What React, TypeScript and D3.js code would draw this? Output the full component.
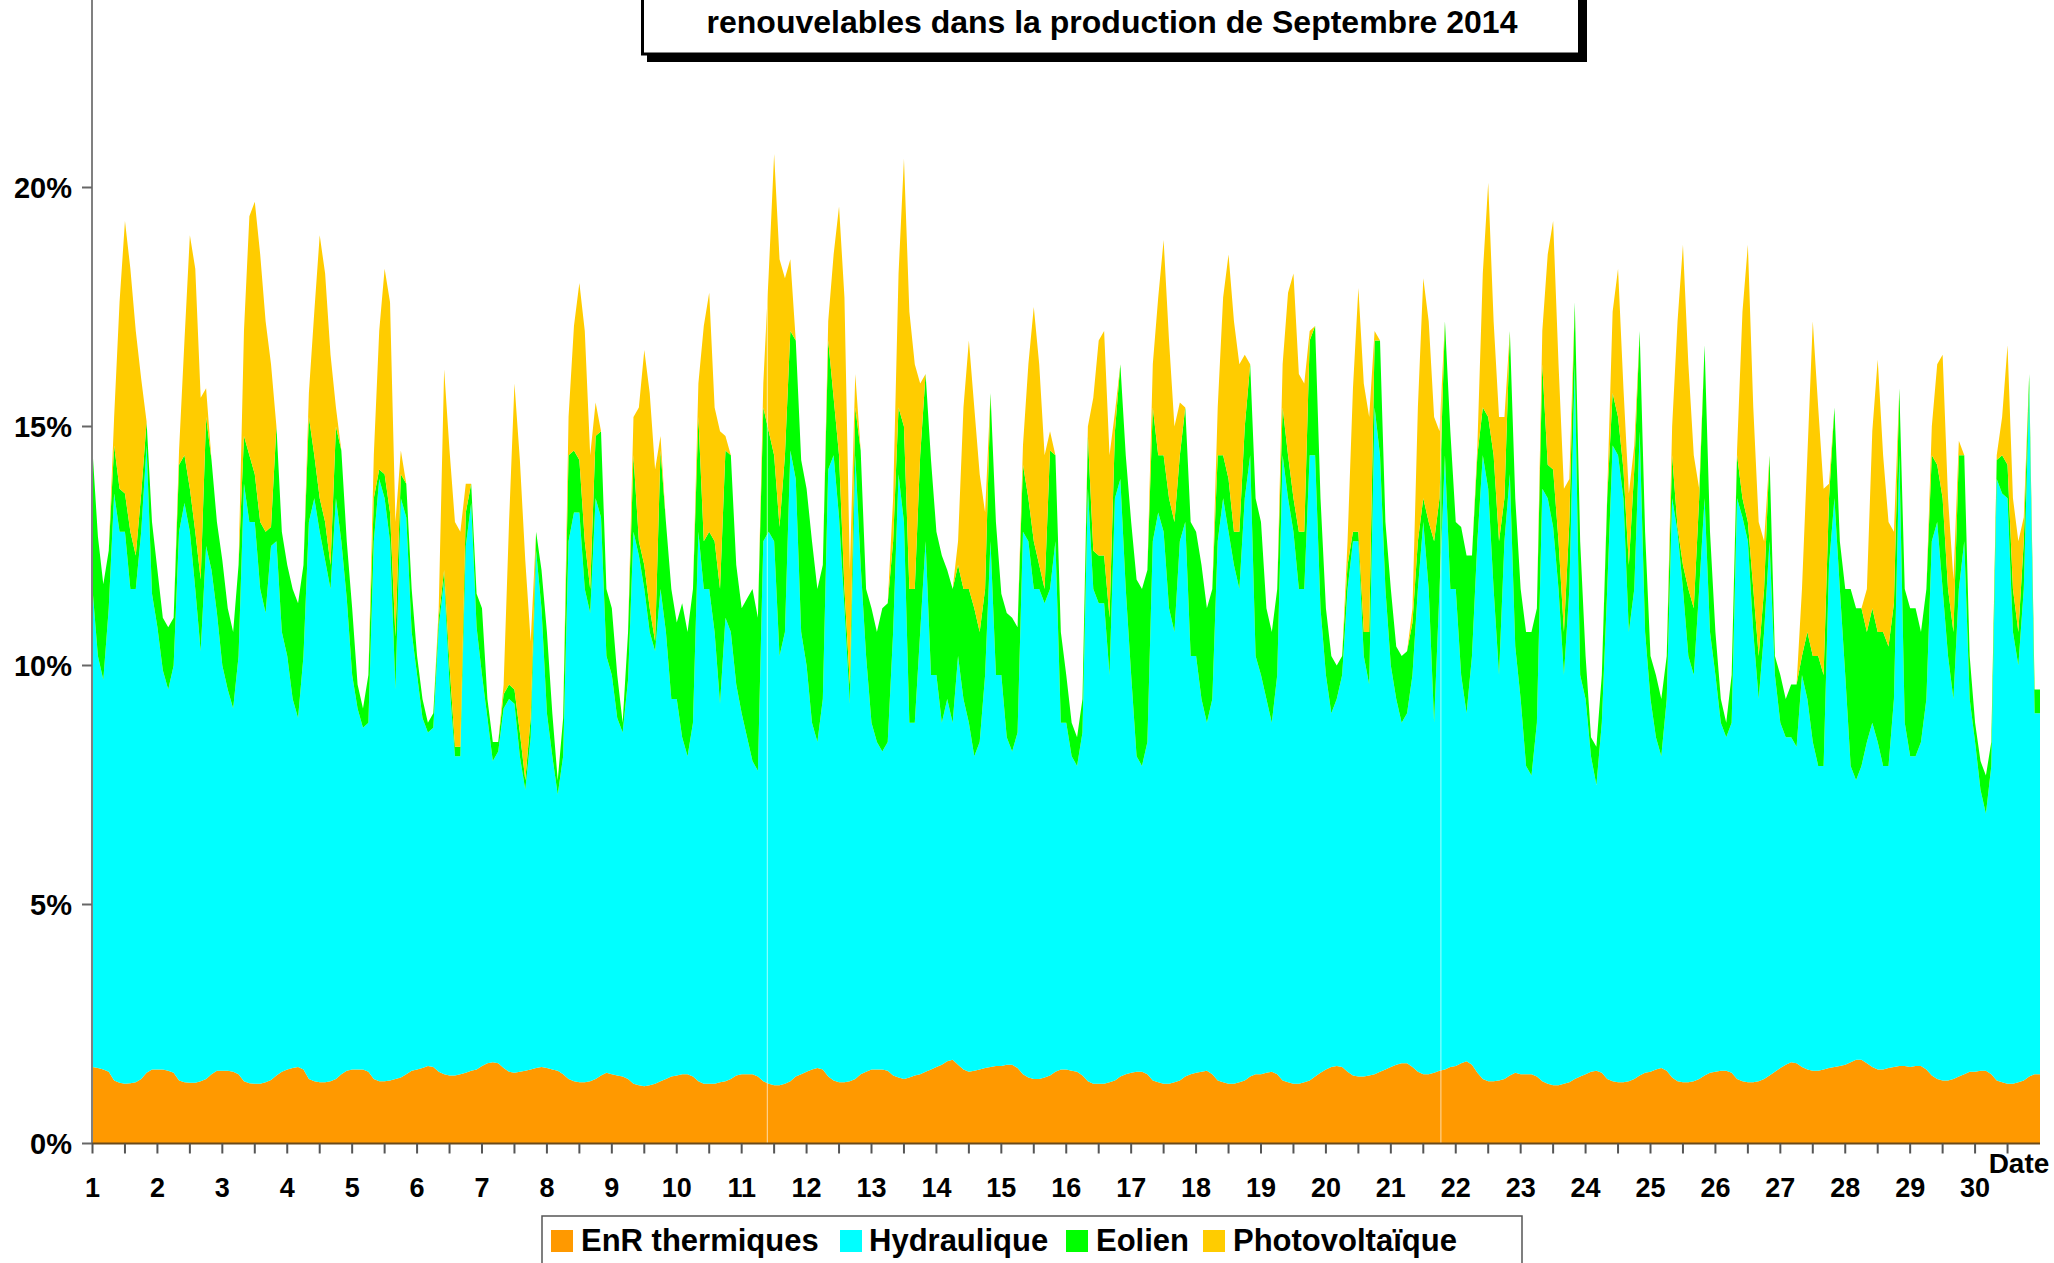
import React from 'react';
import * as d3 from 'd3';

// Hours of each reading within a day
const HOURS = [0, 2, 4, 6, 8, 10, 12, 14, 16, 18, 20, 22];

const DAY_LABELS = ['1','2','3','4','5','6','7','8','9','10','11','12','13','14','15','16','17','18','19','20','21','22','23','24','25','26','27','28','29','30'];

const Y_TICKS = [0, 5, 10, 15, 20];

const SERIES_NAMES = ['EnR thermiques', 'Hydraulique', 'Eolien', 'Photovoltaïque'];
const SERIES_COLORS = ['#FF9900', '#00FFFF', '#00FF00', '#FFCC00'];

// Share of production (%) per day, 2-hourly
const thermal = [
  [1.60,1.58,1.55,1.50,1.32,1.27,1.25,1.26,1.28,1.35,1.48,1.55],
  [1.55,1.55,1.52,1.48,1.32,1.28,1.27,1.27,1.30,1.35,1.45,1.52],
  [1.52,1.52,1.50,1.45,1.30,1.26,1.25,1.25,1.28,1.33,1.42,1.50],
  [1.55,1.58,1.60,1.55,1.35,1.30,1.28,1.28,1.30,1.35,1.45,1.52],
  [1.55,1.55,1.55,1.50,1.35,1.30,1.30,1.32,1.35,1.38,1.45,1.52],
  [1.55,1.58,1.62,1.60,1.50,1.45,1.42,1.42,1.45,1.48,1.52,1.55],
  [1.62,1.68,1.70,1.68,1.58,1.50,1.48,1.50,1.52,1.55,1.58,1.60],
  [1.58,1.55,1.52,1.45,1.35,1.30,1.28,1.28,1.30,1.35,1.42,1.48],
  [1.45,1.42,1.40,1.35,1.25,1.22,1.20,1.22,1.25,1.30,1.35,1.40],
  [1.42,1.45,1.45,1.40,1.30,1.25,1.25,1.25,1.28,1.30,1.35,1.42],
  [1.45,1.45,1.45,1.40,1.30,1.25,1.22,1.22,1.25,1.30,1.40,1.45],
  [1.50,1.55,1.58,1.55,1.40,1.32,1.28,1.28,1.30,1.35,1.45,1.50],
  [1.55,1.55,1.55,1.52,1.42,1.38,1.35,1.38,1.42,1.45,1.50,1.55],
  [1.60,1.65,1.72,1.75,1.65,1.55,1.50,1.52,1.55,1.58,1.60,1.62],
  [1.62,1.65,1.65,1.58,1.45,1.38,1.35,1.35,1.38,1.42,1.50,1.55],
  [1.55,1.52,1.50,1.42,1.30,1.25,1.25,1.25,1.28,1.32,1.40,1.45],
  [1.48,1.50,1.50,1.45,1.32,1.28,1.25,1.25,1.28,1.32,1.40,1.45],
  [1.48,1.50,1.52,1.45,1.32,1.28,1.25,1.25,1.28,1.32,1.40,1.45],
  [1.45,1.48,1.50,1.45,1.32,1.28,1.25,1.25,1.28,1.32,1.40,1.48],
  [1.55,1.60,1.62,1.60,1.50,1.42,1.40,1.40,1.42,1.45,1.50,1.55],
  [1.60,1.65,1.68,1.68,1.60,1.50,1.45,1.45,1.48,1.52,1.55,1.60],
  [1.62,1.68,1.72,1.65,1.48,1.35,1.30,1.30,1.32,1.35,1.42,1.48],
  [1.45,1.45,1.45,1.40,1.30,1.25,1.22,1.22,1.25,1.28,1.35,1.40],
  [1.45,1.50,1.52,1.48,1.35,1.30,1.28,1.28,1.30,1.35,1.42,1.48],
  [1.50,1.55,1.58,1.52,1.38,1.30,1.28,1.28,1.30,1.35,1.42,1.48],
  [1.50,1.52,1.52,1.48,1.35,1.30,1.28,1.28,1.30,1.35,1.42,1.50],
  [1.58,1.65,1.70,1.68,1.60,1.55,1.52,1.52,1.55,1.58,1.60,1.62],
  [1.65,1.70,1.75,1.75,1.68,1.60,1.55,1.55,1.58,1.60,1.62,1.62],
  [1.60,1.62,1.62,1.55,1.42,1.35,1.32,1.32,1.35,1.40,1.45,1.50],
  [1.50,1.52,1.52,1.45,1.32,1.28,1.25,1.25,1.28,1.32,1.40,1.45],
];

const hydro = [
  [10.00,8.62,8.15,9.70,12.28,11.53,11.55,10.34,10.32,11.45,13.12,9.95],
  [9.25,8.35,7.98,8.52,11.48,12.12,11.53,10.33,9.00,11.15,10.55,9.58],
  [8.48,7.98,7.60,8.75,12.50,11.74,11.75,10.35,9.82,11.17,11.18,9.20],
  [8.65,7.72,7.30,8.65,11.65,12.20,11.52,10.92,10.30,12.15,11.15,9.88],
  [8.25,7.55,7.15,7.30,11.25,12.60,12.20,11.28,8.15,12.12,11.65,9.18],
  [8.25,7.32,6.98,7.10,9.30,10.35,8.18,6.68,6.65,11.02,11.88,9.25],
  [8.18,7.22,6.30,6.52,7.52,7.80,7.72,6.60,5.88,6.95,10.82,9.60],
  [7.42,6.55,5.78,6.65,11.25,11.90,11.92,10.32,9.80,12.15,11.68,8.72],
  [8.35,7.48,7.20,8.35,11.55,11.08,10.40,9.48,9.05,10.30,9.35,7.90],
  [7.88,7.05,6.65,7.40,11.50,10.35,10.35,9.45,7.92,9.70,9.35,8.18],
  [7.55,7.05,6.55,6.40,11.30,11.55,11.38,8.98,9.45,13.20,12.50,9.25],
  [8.50,7.25,6.82,7.75,12.70,13.08,11.82,9.92,7.90,13.05,10.65,8.70],
  [7.25,6.85,6.65,6.88,9.28,12.62,11.65,7.42,7.38,9.25,11.10,8.25],
  [8.20,7.15,7.58,7.05,8.55,7.75,7.30,6.58,6.85,8.22,11.00,8.18],
  [8.18,6.85,6.55,7.02,11.35,11.22,10.25,10.25,9.92,10.18,11.10,7.25],
  [7.25,6.58,6.40,7.18,12.40,10.35,10.05,10.05,8.52,12.18,12.50,10.15],
  [8.32,6.60,6.40,6.95,11.28,11.92,11.55,9.95,9.42,11.28,11.60,8.75],
  [8.72,7.80,7.28,7.85,11.28,12.22,11.55,10.85,10.32,12.18,13.00,8.75],
  [8.35,7.82,7.30,8.35,13.08,12.22,11.55,10.35,10.32,13.08,13.00,9.72],
  [8.25,7.40,7.68,8.20,10.10,11.18,11.20,8.80,8.18,13.95,12.90,10.05],
  [8.40,7.65,7.12,7.32,8.20,10.10,11.55,10.15,7.32,10.08,12.85,10.00],
  [9.98,8.12,7.28,8.55,11.12,13.05,12.40,10.30,8.48,11.25,12.58,8.92],
  [7.85,6.45,6.25,7.40,12.40,12.25,11.68,10.38,8.55,10.32,14.95,8.40],
  [7.85,6.60,5.98,7.32,10.25,13.30,13.12,12.22,9.40,10.25,13.48,9.22],
  [7.80,6.95,6.52,7.78,12.12,11.50,10.32,8.92,8.50,10.25,12.08,9.22],
  [8.30,7.28,6.98,7.32,12.15,11.80,11.32,9.42,8.00,9.35,11.18,8.30],
  [7.22,6.85,6.80,6.62,8.20,7.75,6.88,6.38,6.35,10.52,11.90,9.98],
  [8.15,6.20,5.85,6.15,6.72,7.20,6.85,6.35,6.32,7.70,12.78,7.18],
  [6.50,6.48,6.78,7.75,11.18,11.65,10.28,8.88,7.95,10.20,11.15,7.80],
  [6.90,5.88,5.38,6.45,12.58,12.32,12.25,9.45,8.72,10.28,14.40,7.55],
];

const wind = [
  [2.9,2.5,2.0,1.2,1.0,0.9,0.8,1.2,0.7,0.8,0.5,1.5],
  [1.2,1.1,1.3,1.0,1.4,1.0,0.9,1.2,1.5,2.7,2.3,1.9],
  [2.2,1.7,1.6,1.9,1.0,1.4,1.0,1.4,1.7,0.4,2.4,2.1],
  [1.9,2.3,2.4,1.9,2.2,0.9,0.7,0.8,0.5,1.5,1.9,1.2],
  [1.4,0.5,0.4,1.0,0.9,0.2,0.5,0.6,1.1,0.5,0.7,0.9],
  [0.4,0.4,0.2,0.3,0.2,0.2,0.4,0.2,0.2,0.7,0.4,0.7],
  [1.4,0.4,0.4,0.2,0.3,0.3,0.3,0.5,0.2,0.4,0.4,0.8],
  [1.7,0.9,0.3,0.8,1.8,1.3,1.1,1.0,0.5,1.3,1.8,1.4],
  [1.4,0.9,0.2,1.0,1.6,0.3,0.5,0.5,0.2,2.9,2.3,2.3],
  [1.6,2.8,2.6,2.8,2.4,1.0,1.2,1.9,2.4,3.5,3.7,2.5],
  [2.2,2.9,3.6,3.2,2.8,2.1,1.8,2.7,3.7,2.5,2.9,3.6],
  [3.7,3.8,3.2,2.8,2.7,1.2,1.3,0.4,0.4,1.0,2.4,1.4],
  [2.4,2.3,3.0,2.9,1.9,1.4,2.0,2.8,2.8,3.7,3.5,4.5],
  [3.0,3.5,2.7,2.8,1.9,2.3,2.8,3.1,2.3,1.8,3.1,3.2],
  [1.7,2.6,2.8,2.2,1.4,0.9,1.0,0.5,0.3,2.9,1.8,1.9],
  [1.0,0.7,0.6,0.7,1.1,0.8,1.0,1.0,1.2,1.4,2.4,2.8],
  [3.2,3.7,3.7,3.6,2.8,1.2,1.6,2.3,2.3,1.8,2.4,2.8],
  [2.6,2.8,2.4,2.3,1.8,0.9,1.1,0.7,1.2,1.5,1.9,3.3],
  [3.2,1.9,1.9,1.8,1.0,0.9,0.7,1.2,1.2,2.4,2.7,2.3],
  [1.4,1.2,0.7,0.4,0.5,0.2,0.2,0.5,1.1,1.4,2.4,1.4],
  [1.6,1.1,1.4,1.3,1.1,1.0,0.5,1.4,3.8,1.9,2.8,3.3],
  [1.4,3.1,3.3,2.1,1.8,1.0,1.5,2.8,2.8,0.9,3.0,3.1],
  [2.3,2.8,3.0,2.4,2.6,0.7,1.2,1.0,0.9,1.4,1.3,2.8],
  [0.9,0.4,0.8,1.0,1.9,1.1,0.8,0.6,1.4,2.5,2.1,2.1],
  [0.9,1.3,1.2,0.9,0.9,0.1,0.5,1.4,1.4,1.9,3.2,2.1],
  [0.9,0.5,0.3,1.0,0.9,0.4,0.4,0.9,0.9,0.9,1.8,0.4],
  [1.0,0.8,1.1,1.3,0.4,1.4,1.8,2.3,1.9,1.4,1.9,1.0],
  [1.8,3.7,3.6,3.3,2.3,2.4,2.3,2.8,2.5,2.0,1.4,2.8],
  [3.1,3.1,2.3,2.3,1.8,1.2,1.9,1.4,1.4,2.8,1.8,0.9],
  [0.4,0.6,0.8,0.5,0.4,0.8,0.7,0.9,0.7,1.0,0.3,0.5],
];

const solar = [
  [0,0,0,0,0.6,3.9,5.7,5.5,4.7,2.4,0,0],
  [0,0,0,0,0.3,2.4,5.3,5.5,3.8,0.6,0,0],
  [0,0,0,0,2.2,5.0,5.7,5.6,4.4,3.4,0,0],
  [0,0,0,0,0.5,3.0,5.5,5.2,4.4,0.4,0,0],
  [0,0,0,0,0.9,2.9,4.3,4.4,2.4,0.5,0,0],
  [0,0,0,0,0.2,4.2,4.5,4.7,4.5,0.6,0,0],
  [0,0,0,0,0.2,3.4,6.4,5.7,4.6,1.6,0,0],
  [0,0,0,0,0.8,2.6,3.7,4.4,2.8,0.7,0,0],
  [0,0,0,0,0.8,2.8,4.5,4.5,3.6,0.3,0,0],
  [0,0,0,0,0.7,4.5,5.0,2.8,3.3,0.3,0,0],
  [0,0,0,0,0.5,3.3,6.3,5.6,3.7,1.5,0,0],
  [0,0,0,0,0.4,3.0,5.2,6.1,2.4,0.7,0,0],
  [0,0,0,0,0.9,2.8,5.6,5.8,4.7,1.5,0,0],
  [0,0,0,0,0.5,3.8,5.2,4.2,3.3,1.6,0,0],
  [0,0,0,0,0.4,2.8,4.9,4.2,2.8,0.4,0,0],
  [0,0,0,0,0.2,3.2,4.5,4.7,3.4,0.4,0,0],
  [0,0,0,0,0.9,3.3,4.5,3.3,2.0,1.1,0,0],
  [0,0,0,0,1.0,3.3,4.7,4.4,3.5,1.5,0,0],
  [0,0,0,0,0.9,3.4,4.7,3.3,3.1,0.2,0,0],
  [0,0,0,0,0.5,3.0,5.1,5.2,4.5,0.2,0,0],
  [0,0,0,0,0.3,2.8,4.6,4.2,2.6,1.4,0,0],
  [0,0,0,0,0.2,2.8,4.9,2.8,2.6,1.7,0,0],
  [0,0,0,0,0.7,4.4,5.2,3.7,3.0,0.9,0,0],
  [0,0,0,0,0.1,1.7,3.1,1.7,1.5,0.5,0,0],
  [0,0,0,0,0.6,4.3,6.7,4.7,3.2,0.2,0,0],
  [0,0,0,0,0.1,3.9,5.8,3.8,2.8,1.0,0,0],
  [0,0,0,0,1.4,3.7,7.0,5.2,3.9,0.3,0,0],
  [0,0,0,0,0.9,3.7,5.7,3.7,2.6,1.5,0,0],
  [0,0,0,0,0.6,2.1,3.0,1.9,1.1,0.3,0,0],
  [0,0,0,0,0.1,0.8,2.5,1.9,1.9,0.5,0,0],
];

// Hours (from 1 Sept 00:00) where the source chart shows thin seams
const SEAMS = [249.5, 498.5];

const FONT = '"Liberation Sans", Arial, Helvetica, sans-serif';

export default function App() {
  const W = 2054;
  const H = 1263;
  const x = d3.scaleLinear().domain([0, 720]).range([92.5, 2040]);
  const y = d3.scaleLinear().domain([0, 24]).range([1143.5, 1143.5 - 24 * 47.8]);

  const keys = ['thermal', 'hydro', 'wind', 'solar'];
  const rows: any[] = [];
  thermal.forEach((day, d) =>
    day.forEach((v, k) =>
      rows.push({
        t: d * 24 + HOURS[k],
        thermal: v,
        hydro: hydro[d][k],
        wind: wind[d][k],
        solar: solar[d][k],
      })
    )
  );
  // carry last reading to the end of the axis
  rows.push({ ...rows[rows.length - 1], t: 720 });

  const stacked = d3.stack().keys(keys)(rows);
  const area = d3
    .area<any>()
    .x((d: any) => x(d.data.t))
    .y0((d: any) => y(d[0]))
    .y1((d: any) => y(d[1]))
    .curve(d3.curveLinear);

  const totalArea = d3
    .area<any>()
    .x((d: any) => x(d.data.t))
    .y0(() => y(0))
    .y1((d: any) => y(d[1]))
    .curve(d3.curveLinear);

  const xTicks = d3.range(0, 720, 12);
  const y0 = y(0);

  const legendItems = [
    { sq: 551, tx: 581 },
    { sq: 840, tx: 869 },
    { sq: 1066, tx: 1096 },
    { sq: 1203, tx: 1233 },
  ];

  return (
    <svg
      width={W}
      height={H}
      viewBox={`0 0 ${W} ${H}`}
      style={{ position: 'absolute', left: 0, top: 0, background: '#fff' }}
    >
      <rect x={0} y={0} width={W} height={H} fill="#fff" />
      <defs>
        <clipPath id="allArea">
          <path d={totalArea(stacked[3] as any) || ''} />
        </clipPath>
      </defs>

      {stacked.map((s, i) => (
        <path key={keys[i]} d={area(s as any) || ''} fill={SERIES_COLORS[i]} stroke="none" />
      ))}

      <g clipPath="url(#allArea)">
        {SEAMS.map((h) => (
          <line key={h} x1={x(h)} x2={x(h)} y1={y0} y2={0} stroke="#ffffff" strokeOpacity={0.55} strokeWidth={1.2} />
        ))}
      </g>

      {/* Y axis */}
      <line x1={92} x2={92} y1={y0} y2={0} stroke="#808080" strokeWidth={2} />
      {Y_TICKS.map((v) => (
        <g key={v}>
          <line x1={82} x2={92} y1={y(v)} y2={y(v)} stroke="#666" strokeWidth={2} />
          <text
            x={72}
            y={y(v)}
            textAnchor="end"
            dominantBaseline="central"
            fontFamily={FONT}
            fontWeight="bold"
            fontSize={29}
            fill="#000"
          >
            {v}%
          </text>
        </g>
      ))}

      {/* X axis */}
      <line x1={92} x2={2040} y1={y0} y2={y0} stroke="#6b4a1a" strokeWidth={2} />
      {xTicks.map((t) => (
        <line key={t} x1={x(t)} x2={x(t)} y1={y0} y2={y0 + 10} stroke="#555" strokeWidth={2} />
      ))}
      {DAY_LABELS.map((lab, i) => (
        <text
          key={lab}
          x={x(i * 24)}
          y={1197}
          textAnchor="middle"
          fontFamily={FONT}
          fontWeight="bold"
          fontSize={27}
          fill="#000"
        >
          {lab}
        </text>
      ))}
      <text x={2019} y={1173} textAnchor="middle" fontFamily={FONT} fontWeight="bold" fontSize={28} fill="#000">
        Date
      </text>

      {/* Title box */}
      <rect x={647} y={-20} width={940} height={82} fill="#000" />
      <rect x={642.5} y={-20} width={937} height={74} fill="#fff" stroke="#000" strokeWidth={3} />
      <text x={1112} y={33} textAnchor="middle" fontFamily={FONT} fontWeight="bold" fontSize={32} fill="#000">
        renouvelables dans la production de Septembre 2014
      </text>

      {/* Legend */}
      <rect x={542} y={1216} width={980} height={80} fill="#fff" stroke="#555" strokeWidth={1.5} />
      {legendItems.map((it, i) => (
        <g key={SERIES_NAMES[i]}>
          <rect x={it.sq} y={1230} width={22} height={22} fill={SERIES_COLORS[i]} />
          <text x={it.tx} y={1251} fontFamily={FONT} fontWeight="bold" fontSize={31} fill="#000">
            {SERIES_NAMES[i]}
          </text>
        </g>
      ))}
    </svg>
  );
}
